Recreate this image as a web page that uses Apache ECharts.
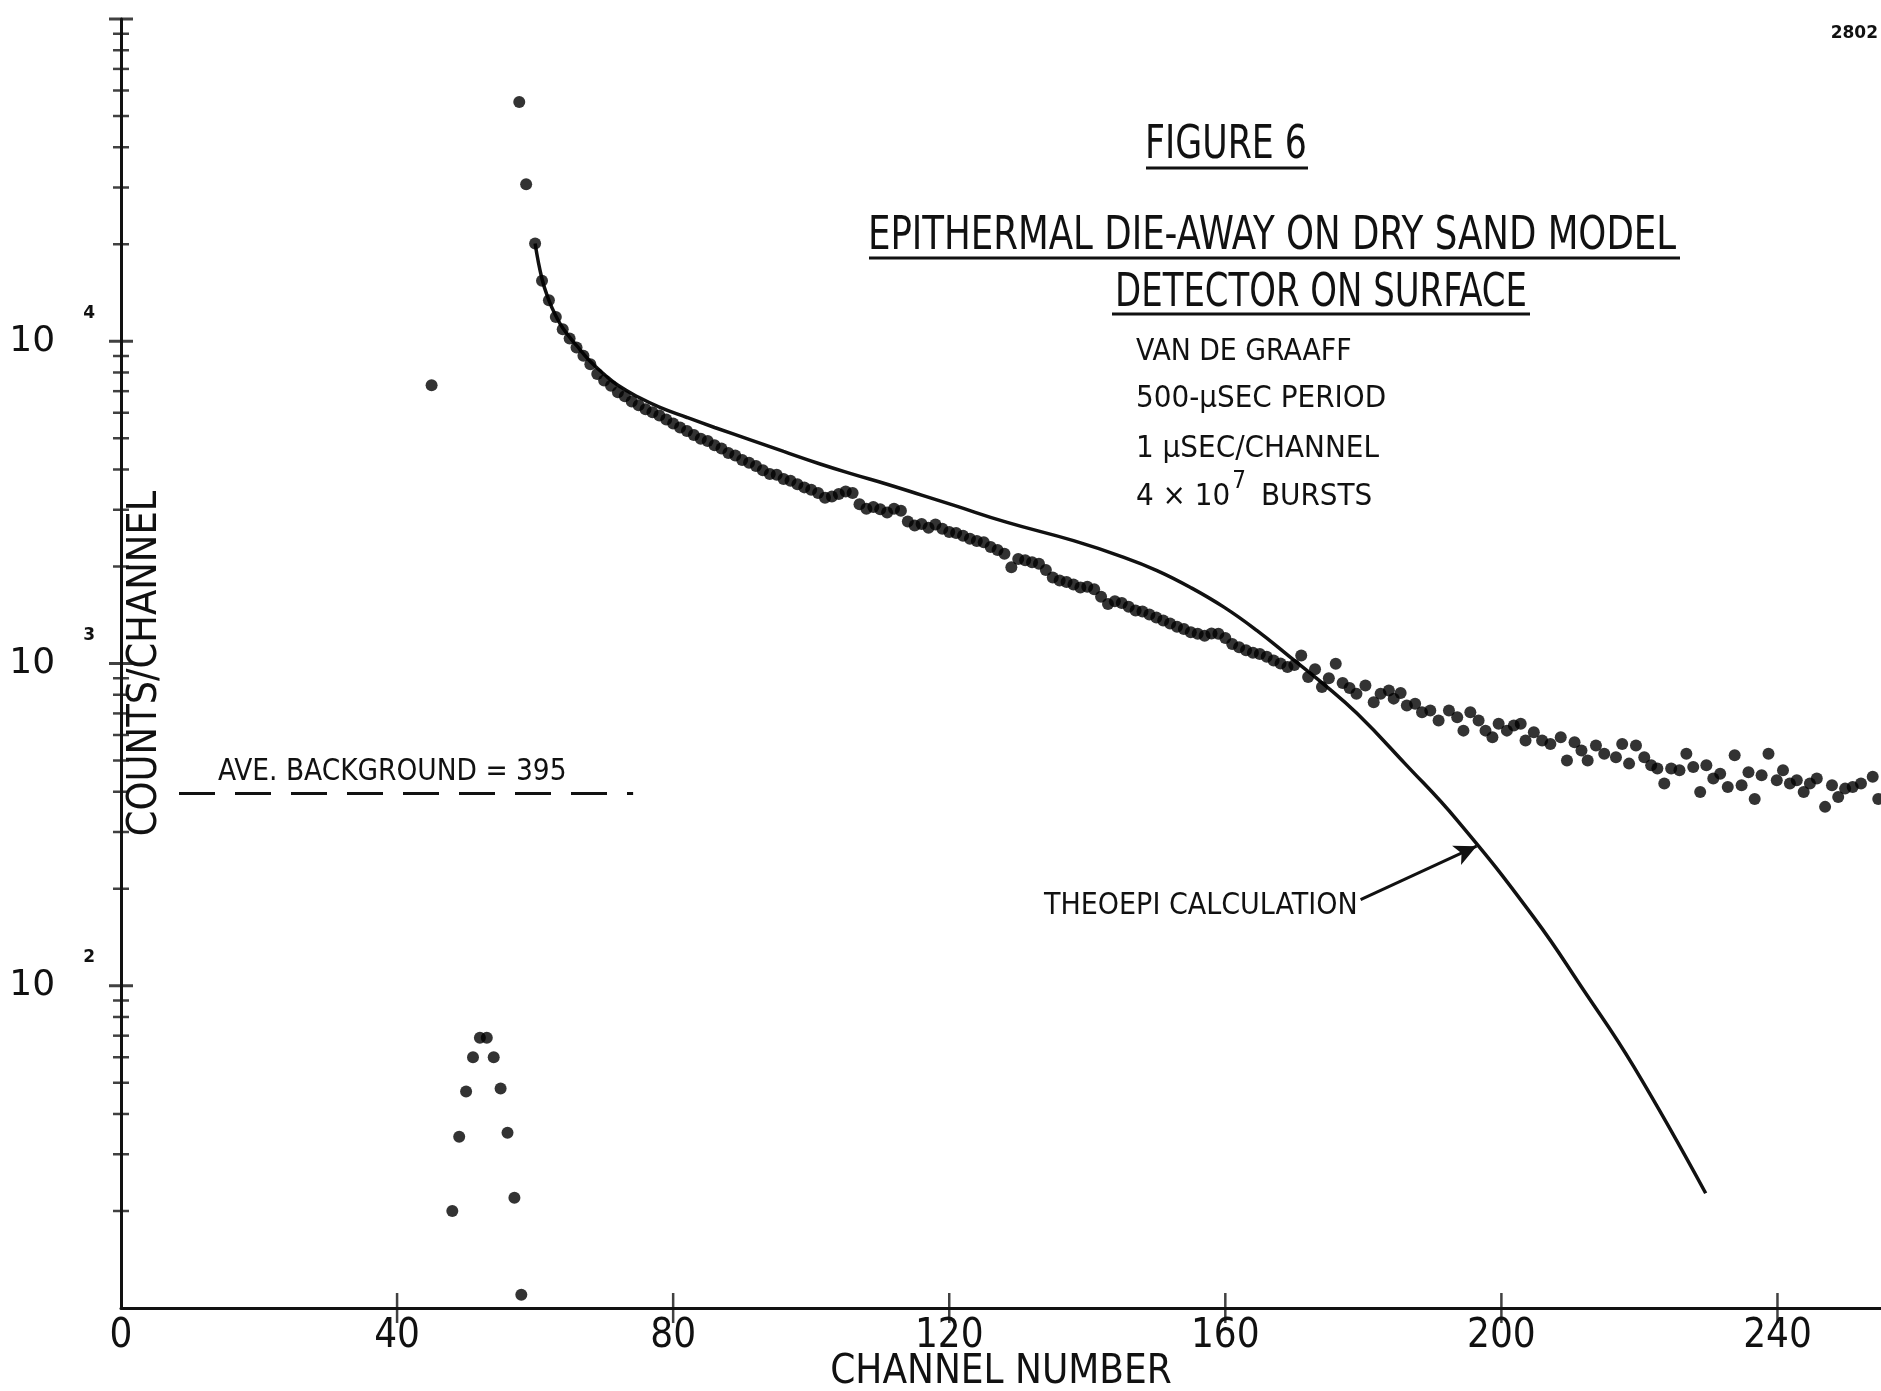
<!DOCTYPE html>
<html><head><meta charset="utf-8">
<script src="https://cdn.jsdelivr.net/npm/echarts@6.0.0/dist/echarts.min.js"></script>
<style>html,body{margin:0;padding:0;background:#fff}#c{width:1881px;height:1391px}</style>
</head><body><div id="c"></div>
<script>
// ---------- data ----------
const xTickValues = [0, 40, 80, 120, 160, 200, 240];
const xMarkedTicks = [40, 80, 120, 160, 200, 240];
const yLabelExponents = {100: '2', 1000: '3', 10000: '4'};
const yMajorTicks = [100, 1000, 10000, 100000];
const yMinorTicks = [20,30,40,50,60,70,80,90,200,300,400,500,600,700,800,900,2000,3000,4000,5000,6000,7000,8000,9000,20000,30000,40000,50000,60000,70000,80000,90000];

const peakChannels = [48, 49, 50, 51, 52, 53, 54, 55, 56, 57, 58];
const peakCounts   = [20, 34, 47, 60, 69, 69, 60, 48, 35, 22, 11];

const pulseChannels = [45, 57.7, 58.7];
const pulseCounts   = [7300, 55300, 30700];

const decayChannels = [60,61,62,63,64,65,66,67,68,69,70,71,72,73,74,75,76,77,78,79,80,81,82,83,84,85,86,87,88,89,90,91,92,93,94,95,96,97,98,99,100,101,102,103,104,105,106,107,108,109,110,111,112,113,114,115,116,117,118,119,120,121,122,123,124,125,126,127,128,129,130,131,132,133,134,135,136,137,138,139,140,141,142,143,144,145,146,147,148,149,150,151,152,153,154,155,156,157,158,159,160,161,162,163,164,165,166,167,168,169,170,171,172,173,174,175,176,177,178,179,
 180.3,181.5,182.5,183.7,184.4,185.4,186.3,187.5,188.5,189.7,190.9,192.4,193.6,194.5,195.5,196.7,197.7,198.7,199.6,200.8,201.8,202.8,203.5,204.7,205.9,207.1,208.6,209.5,210.6,211.6,212.5,213.7,214.9,216.6,217.5,218.5,219.5,220.7,221.7,222.6,223.6,224.6,225.8,226.8,227.8,228.8,229.7,230.7,231.7,232.8,233.8,234.8,235.8,236.7,237.7,238.7,239.9,240.8,241.8,242.8,243.8,244.7,245.7,246.9,247.9,248.8,249.8,250.9,252.1,253.8,254.6];
const decayCounts = [20100,15400,13400,11900,10900,10200,9570,9020,8490,7910,7550,7280,6950,6750,6500,6330,6150,6020,5880,5720,5560,5400,5270,5120,4980,4900,4760,4650,4500,4420,4280,4200,4100,3980,3870,3850,3740,3690,3600,3520,3460,3380,3270,3300,3360,3420,3380,3120,3020,3060,3010,2940,3020,2980,2760,2680,2710,2640,2700,2620,2560,2540,2490,2440,2400,2380,2300,2250,2190,1990,2110,2090,2060,2040,1950,1850,1810,1790,1760,1720,1730,1700,1610,1530,1560,1540,1500,1460,1450,1420,1390,1360,1330,1300,1280,1250,1236,1220,1240,1236,1200,1150,1124,1100,1080,1071,1050,1021,1000,975,990,1059,908,960,845,900,998,870,840,806,
 855,758,806,825,778,810,741,750,706,715,665,715,681,619,706,665,619,590,650,619,642,650,577,612,577,563,590,500,570,537,500,557,525,512,563,489,557,512,483,472,424,472,466,525,477,399,483,440,455,414,519,419,460,380,450,525,434,466,424,434,399,424,440,359,419,385,409,414,424,445,380];

const theoryChannels = [60,61,62,63,64,66,68,70,72,75,78,82,86,91.6,96,101.3,106,111,116,120.6,128.4,138,145.3,150.1,154.9,159.8,164.6,169.4,174.2,179.1,186,193.6,204.7,211.9,219.2,229.6];
const theoryCounts   = [20100,15600,13400,12000,11000,9700,8650,7900,7300,6700,6250,5800,5400,4910,4550,4160,3870,3600,3330,3100,2740,2405,2136,1943,1725,1496,1265,1047,865,699,490,326,163,97,56,22.7];

const backgroundLevel = 395;
const backgroundRange = [8.4, 74.2];
const arrowFrom = [179.6, 185];
const arrowTo = [196.4, 271];

// ---------- chart ----------
const NARROW = "'Liberation Sans Narrow','DejaVu Sans Condensed','Arial Narrow',sans-serif";
const INK = '#111';
const zip = (a, b) => a.map((v, i) => [v, b[i]]);

function txt(x, y, text, size, align, sx) {
  return {type: 'text', x: x, y: y, scaleX: sx || 1, style: {text: text, font: size + 'px ' + NARROW, fill: INK,
    align: align, verticalAlign: 'middle', textAlign: align, textVerticalAlign: 'middle'}};
}
function uline(x1, x2, y) {
  return {type: 'line', shape: {x1: x1, y1: y, x2: x2, y2: y}, style: {stroke: INK, lineWidth: 3}};
}

const chart = echarts.init(document.getElementById('c'), null, {renderer: 'canvas'});
const option = {
  backgroundColor: '#fff',
  animation: false,
  grid: {left: 121, right: 0, top: 19, bottom: 83, containLabel: false, outerBoundsMode: 'none'},
  xAxis: {
    type: 'value', min: 0, max: 255, interval: 40,
    name: 'CHANNEL NUMBER', nameLocation: 'middle', nameGap: 45, nameMoveOverlap: false,
    nameTextStyle: {fontFamily: NARROW, fontSize: 40, color: INK},
    axisLine: {lineStyle: {color: INK, width: 3}},
    axisTick: {show: false},
    splitLine: {show: false},
    axisLabel: {
      fontFamily: NARROW, fontSize: 40, color: INK, margin: 9, showMaxLabel: false,
      formatter: v => (xTickValues.indexOf(v) >= 0 ? String(v) : '')
    }
  },
  yAxis: {
    type: 'log', logBase: 10, min: 10, max: 100000,
    name: 'COUNTS/CHANNEL', nameLocation: 'middle', nameRotate: 90, nameGap: -45, nameMoveOverlap: false,
    nameTextStyle: {fontFamily: NARROW, fontSize: 41, color: INK},
    axisLine: {lineStyle: {color: INK, width: 3}},
    axisTick: {show: false},
    splitLine: {show: false},
    axisLabel: {
      margin: 26, color: INK,
      formatter: v => {
        const e = yLabelExponents[Math.round(v)];
        return e ? '{b|10}{s|' + e + '}' : '';
      },
      rich: {
        b: {fontFamily: "'DejaVu Sans',sans-serif", fontSize: 36, lineHeight: 36, color: INK},
        s: {fontFamily: "'DejaVu Sans',sans-serif", fontSize: 17, fontWeight: 'bold', lineHeight: 18, padding: [0, 0, 56, 28], color: INK}
      }
    }
  },
  series: [
    {
      type: 'scatter', name: 'yMinor', silent: true, clip: false, z: 3,
      symbol: 'rect', symbolSize: [16, 2.5], itemStyle: {color: INK},
      data: yMinorTicks.map(v => [0, v])
    },
    {
      type: 'scatter', name: 'yMajor', silent: true, clip: false, z: 3,
      symbol: 'rect', symbolSize: [24, 3], itemStyle: {color: INK},
      data: yMajorTicks.map(v => [0, v])
    },
    {
      type: 'scatter', name: 'xTicks', silent: true, clip: false, z: 3,
      symbol: 'rect', symbolSize: [2.5, 30], itemStyle: {color: INK},
      data: xMarkedTicks.map(v => [v, 10])
    },
    {
      type: 'line', name: 'THEOEPI CALCULATION', data: zip(theoryChannels, theoryCounts),
      smooth: 0.45, showSymbol: false, silent: true, z: 4,
      lineStyle: {color: INK, width: 3.5},
      markLine: {
        silent: true, symbol: ['none', 'arrow'], symbolSize: [16, 22], animation: false,
        label: {show: false},
        lineStyle: {color: INK, width: 3, type: 'solid'},
        data: [[{coord: arrowFrom}, {coord: arrowTo}]]
      }
    },
    {
      type: 'line', name: 'AVE. BACKGROUND', data: backgroundRange.map(c => [c, backgroundLevel]),
      showSymbol: false, silent: true,
      lineStyle: {color: INK, width: 3, type: [36, 20]}
    },
    {
      type: 'scatter', name: 'data', symbol: 'circle', symbolSize: 12, z: 5,
      itemStyle: {color: '#000'},
      data: zip(decayChannels, decayCounts).concat(zip(peakChannels, peakCounts), zip(pulseChannels, pulseCounts))
    }
  ],
  graphic: [
    txt(1226, 146, 'FIGURE 6', 46, 'center', 0.84),
    uline(1146, 1308, 168),
    txt(1272, 237, 'EPITHERMAL DIE-AWAY ON DRY SAND MODEL', 46, 'center', 0.86),
    uline(869, 1680, 258),
    txt(1321, 294, 'DETECTOR ON SURFACE', 46, 'center', 0.82),
    uline(1112, 1530, 314),
    txt(1136, 352, 'VAN DE GRAAFF', 31, 'left', 0.96),
    txt(1136, 399, '500-μSEC PERIOD', 31, 'left'),
    txt(1136, 449, '1 μSEC/CHANNEL', 31, 'left'),
    {type: 'text', x: 1136, y: 491, style: {
      text: '{m|4 × 10}{s|7}{m| BURSTS}', align: 'left', verticalAlign: 'middle', textAlign: 'left', textVerticalAlign: 'middle',
      rich: {m: {font: '31px ' + NARROW, fill: INK, color: INK, lineHeight: 34, padding: [12, 0, 0, 0]},
             s: {font: '24px ' + NARROW, fill: INK, color: INK, lineHeight: 24, padding: [0, 6, 18, 2]}}
    }},
    txt(218, 772, 'AVE. BACKGROUND = 395', 31, 'left', 0.95),
    txt(1044, 906, 'THEOEPI CALCULATION', 30, 'left'),
    {type: 'text', x: 1878, y: 34, style: {text: '2802', font: "bold 17px 'DejaVu Sans',sans-serif", fill: INK, align: 'right', verticalAlign: 'middle', textAlign: 'right', textVerticalAlign: 'middle'}}
  ]
};
chart.setOption(option);
</script>
</body></html>
